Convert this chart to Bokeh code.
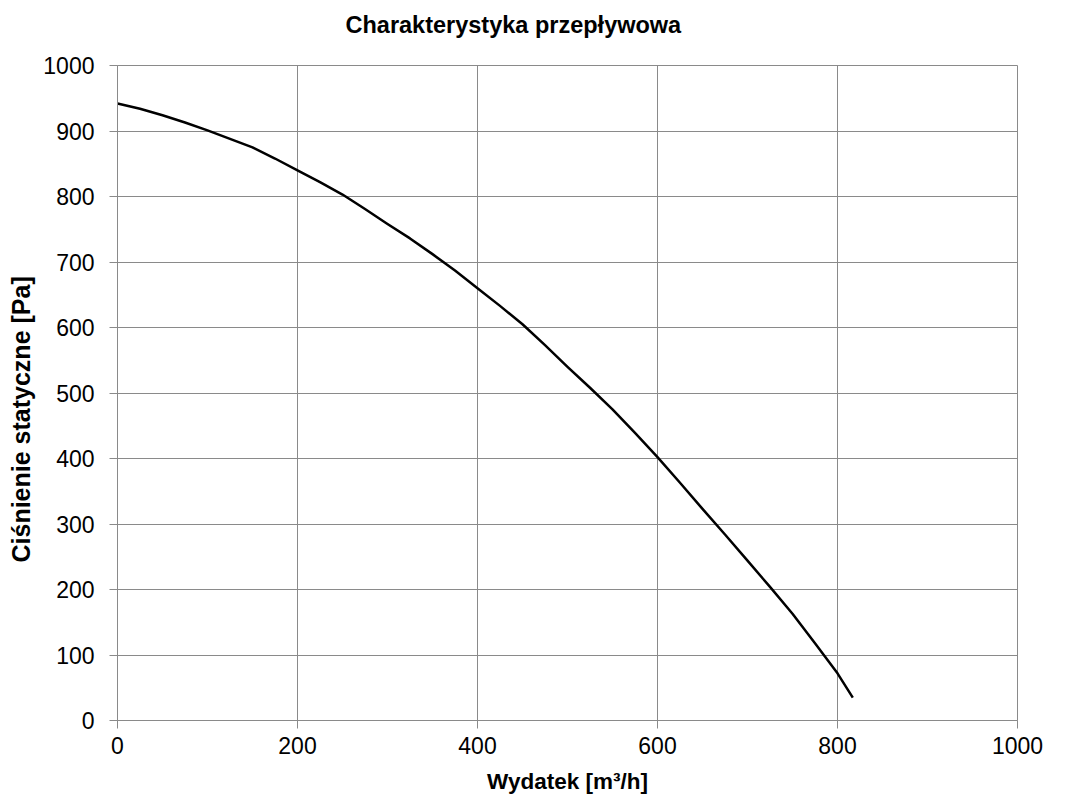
from bokeh.plotting import figure
from bokeh.models import Range1d, FixedTicker, Title
from bokeh.embed import file_html
from bokeh.resources import INLINE

# Flow characteristic
flow = [0, 25, 50, 75, 100, 125, 150, 175, 200, 225, 250, 275, 300, 325, 350, 375, 400,
        425, 450, 475, 500, 525, 550, 575, 600, 625, 650, 675, 700, 725, 750, 775, 800, 817]
pressure = [942, 934, 924, 913, 901, 888, 875, 858, 840, 822, 803, 781, 758, 736, 712, 687, 660,
            633, 605, 573, 540, 508, 475, 439, 402, 363, 323, 284, 244, 204, 163, 118, 72, 35]

x_ticks = [0, 200, 400, 600, 800, 1000]
y_ticks = [0, 100, 200, 300, 400, 500, 600, 700, 800, 900, 1000]

FONT = "Liberation Sans"
GRID = "#8a8a8a"

p = figure(width=1060, height=796, output_backend="svg", toolbar_location=None,
           x_range=Range1d(0, 1000), y_range=Range1d(0, 1000),
           min_border_left=115, min_border_right=43, min_border_top=65, min_border_bottom=76,
           title="Charakterystyka przepływowa")

p.title.align = "left"
p.title.offset = 228
p.title.text_font = FONT
p.title.text_font_size = "23.5px"
p.title.text_font_style = "bold"
p.title.text_color = "black"
p.title.standoff = 14

# blank spacer between the title and the plot frame
p.add_layout(Title(text=" ", text_font_size="10px", standoff=8), "above")

# vertical axis title, outermost in the left panel
ytitle = Title(text="Ciśnienie statyczne [Pa]", align="left", offset=158,
               vertical_align="middle", standoff=10, text_font=FONT,
               text_font_size="25px", text_font_style="bold", text_color="black")
p.left = list(p.left) + [ytitle]

p.line(flow, pressure, line_color="black", line_width=2.5, line_join="round")

p.xaxis.ticker = FixedTicker(ticks=x_ticks)
p.yaxis.ticker = FixedTicker(ticks=y_ticks)
for ax in (p.xaxis, p.yaxis):
    ax.major_label_text_font = FONT
    ax.major_label_text_font_size = "23px"
    ax.major_label_text_color = "black"
    ax.axis_label_text_font = FONT
    ax.axis_label_text_font_style = "bold"
    ax.axis_label_text_color = "black"
    ax.axis_line_color = GRID
    ax.major_tick_line_color = GRID
    ax.major_tick_out = 8
    ax.major_tick_in = 0
    ax.minor_tick_line_color = None

p.xaxis.axis_label_text_font_size = "22.5px"
p.xaxis.axis_label = "Wydatek [m³/h]"
p.xaxis.major_label_standoff = 8
p.yaxis.major_label_standoff = 15
p.xaxis.axis_label_standoff = 12

p.xgrid.grid_line_color = GRID
p.ygrid.grid_line_color = GRID
p.xgrid.grid_line_width = 1
p.ygrid.grid_line_width = 1
p.outline_line_color = GRID

open("out.html", "w").write(file_html(p, INLINE))
